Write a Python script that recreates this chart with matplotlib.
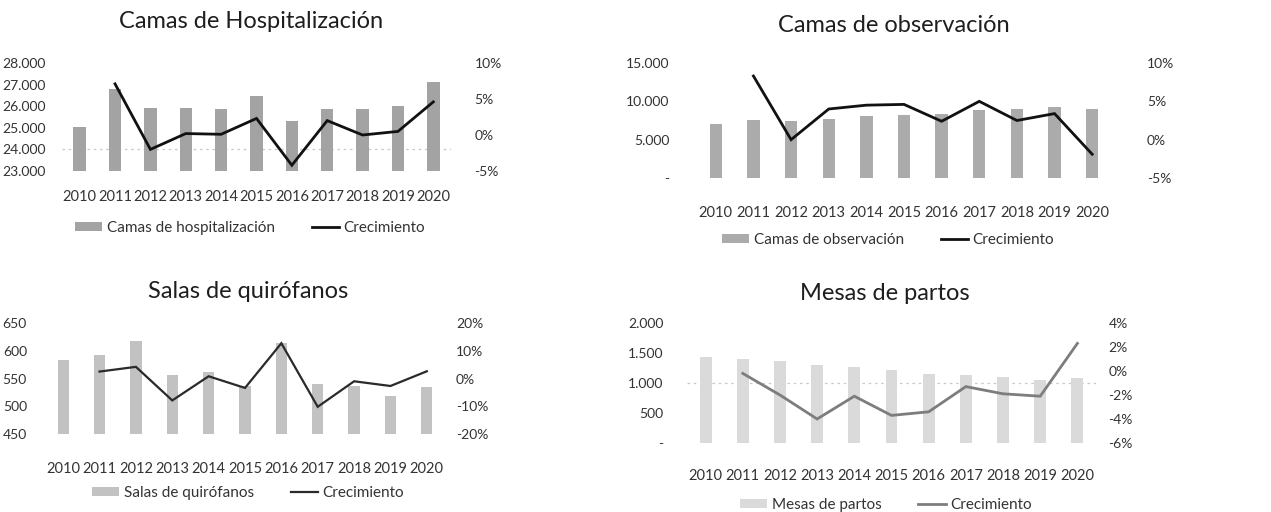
import matplotlib
matplotlib.use("Agg")
import matplotlib.pyplot as plt
from matplotlib.ticker import FuncFormatter, FixedLocator

plt.rcParams['font.family'] = ['Lato', 'DejaVu Sans']

years = [str(y) for y in range(2010, 2021)]

# Camas de hospitalización
hosp_beds = [25050, 26800, 25900, 25900, 25850, 26450, 25300, 25850, 25850, 26000, 27100]
hosp_growth = [None, 7.1, -2.0, 0.2, 0.1, 2.3, -4.2, 2.0, 0.0, 0.5, 4.6]

# Camas de observación
obs_beds = [7080, 7570, 7430, 7650, 8050, 8190, 8400, 8850, 8980, 9200, 8980]
obs_growth = [None, 8.3, 0.0, 4.0, 4.5, 4.6, 2.4, 5.0, 2.5, 3.4, -1.9]

# Salas de quirófanos
or_rooms = [583, 593, 617, 557, 561, 536, 614, 540, 537, 519, 534]
or_growth = [None, 2.5, 4.2, -7.9, 0.8, -3.4, 12.7, -10.2, -1.0, -2.7, 2.6]

# Mesas de partos
delivery = [1433, 1405, 1367, 1305, 1267, 1211, 1155, 1128, 1100, 1055, 1083]
delivery_growth = [None, -0.2, -2.0, -4.0, -2.1, -3.7, -3.4, -1.3, -1.9, -2.1, 2.3]

W, H = 1271, 512
fig = plt.figure(figsize=(W / 100, H / 100), dpi=100)
fig.patch.set_facecolor('white')

TICK_SIZE = 10


def thousands(v, _pos=None):
    if abs(v) < 1e-9:
        return '-'
    return f"{int(round(v)):,}".replace(',', '.')


def pct(v, _pos=None):
    return f"{int(round(v))}%"


def panel(rect, title, title_xy, bars, growth, bar_label, bar_color, line_color,
          lw, ylim, yticks, y2lim, y2ticks, legend_xy, left_fmt, lpad, rpad,
          xpad, width, guide=None, title_size=17):
    l, t, r, b = rect
    ax = fig.add_axes([l / W, 1 - b / H, (r - l) / W, (b - t) / H])
    x = list(range(len(years)))
    bh = ax.bar(x, [v - ylim[0] for v in bars], bottom=ylim[0], width=width,
                color=bar_color, label=bar_label, zorder=2)
    ax.set_xlim(-0.5, len(years) - 0.5)
    ax.set_ylim(*ylim)
    ax.yaxis.set_major_locator(FixedLocator(yticks))
    ax.yaxis.set_major_formatter(FuncFormatter(left_fmt))
    ax.set_xticks(x)
    ax.set_xticklabels(years)
    if guide is not None:
        ax.axhline(guide, color='#c8c8c8', lw=0.9, ls=(0, (2, 3)), zorder=1)
    for s in ax.spines.values():
        s.set_visible(False)
    ax.tick_params(axis='y', length=0, labelsize=TICK_SIZE, colors='#333333', pad=lpad)
    ax.tick_params(axis='x', length=0, labelsize=TICK_SIZE + 0.5, colors='#333333', pad=xpad)

    ax2 = ax.twinx()
    gx = [i for i, g in enumerate(growth) if g is not None]
    gy = [g for g in growth if g is not None]
    lh, = ax2.plot(gx, gy, color=line_color, lw=lw, label='Crecimiento',
                   solid_joinstyle='miter', zorder=3)
    ax2.set_ylim(*y2lim)
    ax2.yaxis.set_major_locator(FixedLocator(y2ticks))
    ax2.yaxis.set_major_formatter(FuncFormatter(pct))
    for s in ax2.spines.values():
        s.set_visible(False)
    ax2.tick_params(axis='y', length=0, labelsize=TICK_SIZE, colors='#333333', pad=rpad)

    fig.text(title_xy[0] / W, 1 - title_xy[1] / H, title, ha='center',
             va='center', fontsize=title_size, color='#1e1e1e')
    fig.legend([bh, lh], [bar_label, 'Crecimiento'], loc='center',
               bbox_to_anchor=(legend_xy[0] / W, 1 - legend_xy[1] / H),
               ncol=2, frameon=False, fontsize=11, handlelength=1.8,
               handleheight=0.55, handletextpad=0.3, columnspacing=2.4,
               labelcolor='#333333')
    return ax, ax2


panel((62, 63, 451, 171), 'Camas de Hospitalización', (251, 22),
      hosp_beds, hosp_growth, 'Camas de hospitalización', '#a3a3a3', '#111111',
      2.0, (23000, 28000), [23000, 24000, 25000, 26000, 27000, 28000],
      (-5, 10), [-5, 0, 5, 10], (250, 228), thousands, 12, 17, 14, 0.35,
      guide=24000)

panel((697, 63, 1111, 178), 'Camas de observación', (894, 25),
      obs_beds, obs_growth, 'Camas de observación', '#ababab', '#111111',
      2.0, (0, 15000), [0, 5000, 10000, 15000],
      (-5, 10), [-5, 0, 5, 10], (888, 240), thousands, 20, 26, 20, 0.33)

panel((45, 323, 445, 434), 'Salas de quirófanos', (248, 292),
      or_rooms, or_growth, 'Salas de quirófanos', '#c2c2c2', '#2a2a2a',
      1.6, (450, 650), [450, 500, 550, 600, 650],
      (-20, 20), [-20, -10, 0, 10, 20], (248, 493), thousands, 13, 8, 20, 0.31)

panel((687, 323, 1096, 443), 'Mesas de partos', (885, 294),
      delivery, delivery_growth, 'Mesas de partos', '#dadada', '#7d7d7d',
      2.0, (0, 2000), [0, 500, 1000, 1500, 2000],
      (-6, 4), [-6, -4, -2, 0, 2, 4], (886, 505), thousands, 17, 9, 19, 0.32,
      guide=1000)

fig.savefig('out.png', dpi=100, facecolor='white')
